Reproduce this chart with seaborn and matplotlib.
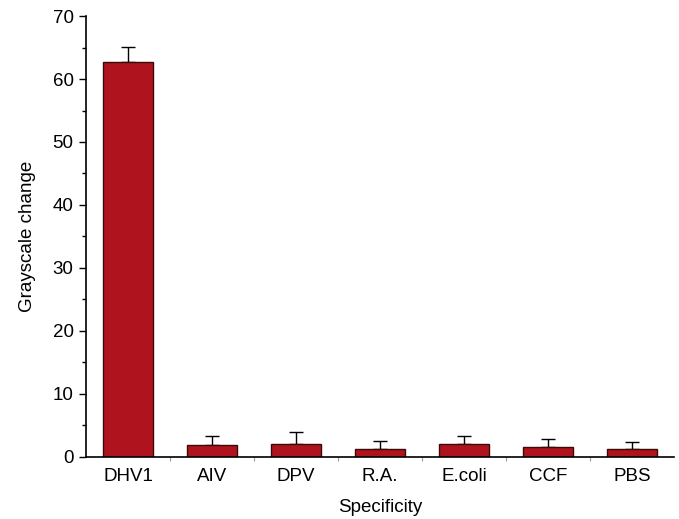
import matplotlib
matplotlib.use("Agg")
import matplotlib.pyplot as plt
import seaborn as sns
import pandas as pd
import numpy as np
from matplotlib.ticker import MultipleLocator, FixedLocator

categories = ["DHV1", "AIV", "DPV", "R.A.", "E.coli", "CCF", "PBS"]
values = [62.75, 1.86, 2.1, 1.22, 1.97, 1.49, 1.17]
errors = [2.4, 1.5, 1.9, 1.3, 1.4, 1.3, 1.2]

sns.set_style("ticks")
plt.rcParams['font.family'] = ['Liberation Sans', 'DejaVu Sans']
plt.rcParams['text.color'] = 'black'
plt.rcParams['axes.labelcolor'] = 'black'
plt.rcParams['xtick.color'] = 'black'
plt.rcParams['ytick.color'] = 'black'
plt.rcParams['axes.edgecolor'] = 'black'

df = pd.DataFrame({"cat": categories, "val": values, "err": errors})

fig = plt.figure(figsize=(6.79, 5.19), dpi=100)
ax = fig.add_axes([0.1267, 0.12, 0.866, 0.849])

sns.barplot(data=df, x="cat", y="val", color="#AF141E", edgecolor="#3a0a0a",
            linewidth=1.0, width=0.6, errorbar=None, ax=ax, saturation=1)
ax.errorbar(np.arange(len(categories)), values,
            yerr=[np.zeros(len(errors)), errors], fmt="none",
            ecolor="black", elinewidth=1.0, capsize=5, capthick=1.0, zorder=0.5)

ax.set_xlim(-0.5, len(categories) - 0.5)
ax.set_ylim(0, 70)
ax.yaxis.set_major_locator(MultipleLocator(10))
ax.yaxis.set_minor_locator(MultipleLocator(5))
ax.tick_params(axis="y", which="major", length=5, width=1, labelsize=13.5, direction="out", pad=4)
ax.tick_params(axis="y", which="minor", length=3, width=1, direction="out")
ax.tick_params(axis="x", which="major", length=0, labelsize=13.5, pad=8)
ax.xaxis.set_minor_locator(FixedLocator(np.arange(0.5, len(categories) - 0.5, 1)))
ax.tick_params(axis="x", which="minor", length=3, width=0.8, color="#999999", direction="out")

ax.set_xlabel("Specificity", fontsize=13.5, labelpad=10)
ax.set_ylabel("Grayscale change", fontsize=13.5, labelpad=12)
sns.despine(ax=ax)
for s in ["left", "bottom"]:
    ax.spines[s].set_linewidth(1.2)

fig.savefig("out.png", dpi=100)
